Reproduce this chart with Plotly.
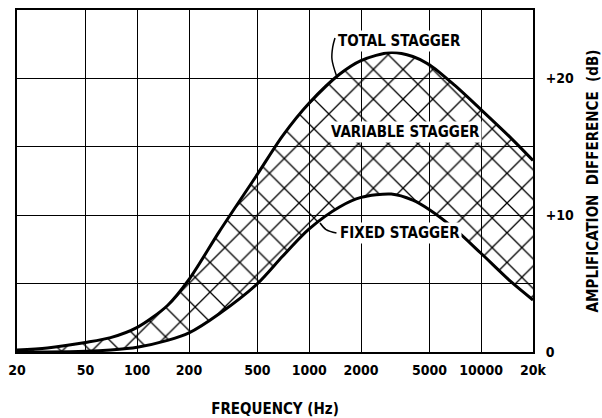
import math
import plotly.graph_objects as go

# Frequency response of the stagger network (amplification difference in dB)
freq_hz = [20, 30, 50, 70, 100, 150, 200, 300, 500, 700, 1000, 1500,
           2000, 3000, 4000, 5000, 7000, 10000, 15000, 20000]
total_stagger_db = [0.15, 0.3, 0.7, 1.05, 1.8, 3.4, 5.3, 8.8, 13.0, 15.8, 18.2,
                    20.3, 21.3, 21.9, 21.6, 21.0, 19.5, 17.7, 15.6, 14.0]
fixed_stagger_db = [0.0, 0.0, 0.05, 0.15, 0.35, 0.85, 1.4, 2.8, 5.0, 7.0, 9.0,
                    10.6, 11.3, 11.55, 11.1, 10.4, 9.0, 7.2, 5.1, 3.8]

x_tick_vals = [20, 50, 100, 200, 500, 1000, 2000, 5000, 10000, 20000]
x_tick_text = ["20", "50", "100", "200", "500", "1000", "2000", "5000", "10000", "20k"]
y_tick_vals = [0, 5, 10, 15, 20, 25]
y_tick_text = ["0", "", "+10", "", "+20", ""]

# leader lines from the labels to the curves (Hz, dB)
total_leader_hz = [1412, 1370, 1356, 1440]
total_leader_db = [22.95, 22.3, 21.4, 20.2]
fixed_leader_hz = [1156, 1253, 1440]
fixed_leader_db = [9.43, 8.95, 8.7]

FONT = "DejaVu Sans Condensed, sans-serif"

fig = go.Figure()

fig.add_trace(go.Scatter(
    x=freq_hz, y=fixed_stagger_db, mode="lines",
    line=dict(color="black", width=3, shape="spline", smoothing=0.8),
    hoverinfo="skip", showlegend=False))

fig.add_trace(go.Scatter(
    x=freq_hz, y=total_stagger_db, mode="lines",
    line=dict(color="black", width=3, shape="spline", smoothing=0.8),
    fill="tonexty", fillcolor="black",
    fillpattern=dict(shape="x", size=21, solidity=0.12, fgcolor="black",
                     fgopacity=1, bgcolor="rgba(255,255,255,0)"),
    hoverinfo="skip", showlegend=False))

for hz, db in ((total_leader_hz, total_leader_db), (fixed_leader_hz, fixed_leader_db)):
    fig.add_trace(go.Scatter(
        x=hz, y=db, mode="lines",
        line=dict(color="black", width=1.5, shape="spline"),
        hoverinfo="skip", showlegend=False))

label_font = dict(family=FONT, size=15, color="black", weight="bold")
fig.add_annotation(x=math.log10(1440), y=22.7, text="TOTAL STAGGER",
                   xanchor="left", yanchor="middle", showarrow=False,
                   font=label_font, bgcolor="white", borderpad=1)
fig.add_annotation(x=math.log10(3650), y=16.1, text="VARIABLE STAGGER",
                   xanchor="center", yanchor="middle", showarrow=False,
                   font=label_font, bgcolor="white", borderpad=1)
fig.add_annotation(x=math.log10(1470), y=8.7, text="FIXED STAGGER",
                   xanchor="left", yanchor="middle", showarrow=False,
                   font=label_font, bgcolor="white", borderpad=1)

tick_font = dict(family=FONT, size=14, color="black", weight="bold")
title_font = dict(family=FONT, size=15, color="black", weight="bold")

fig.update_xaxes(
    type="log", range=[math.log10(20), math.log10(20000)],
    tickvals=x_tick_vals, ticktext=x_tick_text, tickfont=tick_font,
    ticks="outside", ticklen=4, tickcolor="rgba(0,0,0,0)",
    showgrid=True, gridcolor="black", gridwidth=1.2,
    showline=True, linecolor="black", linewidth=2, mirror=True,
    zeroline=False, automargin=False,
    title=dict(text="FREQUENCY (Hz)", font=title_font, standoff=29))

fig.update_yaxes(
    side="right", range=[0, 25],
    tickvals=y_tick_vals, ticktext=y_tick_text, tickfont=tick_font,
    ticks="outside", ticklen=8, tickcolor="rgba(0,0,0,0)",
    showgrid=True, gridcolor="black", gridwidth=1.2,
    showline=True, linecolor="black", linewidth=2, mirror=True,
    zeroline=False, automargin=False,
    title=dict(text="AMPLIFICATION  DIFFERENCE  (dB)", font=title_font, standoff=18))

fig.update_layout(
    width=602, height=418,
    margin=dict(l=17, r=69, t=10, b=66),
    paper_bgcolor="white", plot_bgcolor="white",
    showlegend=False)

fig.write_html("out.html")
